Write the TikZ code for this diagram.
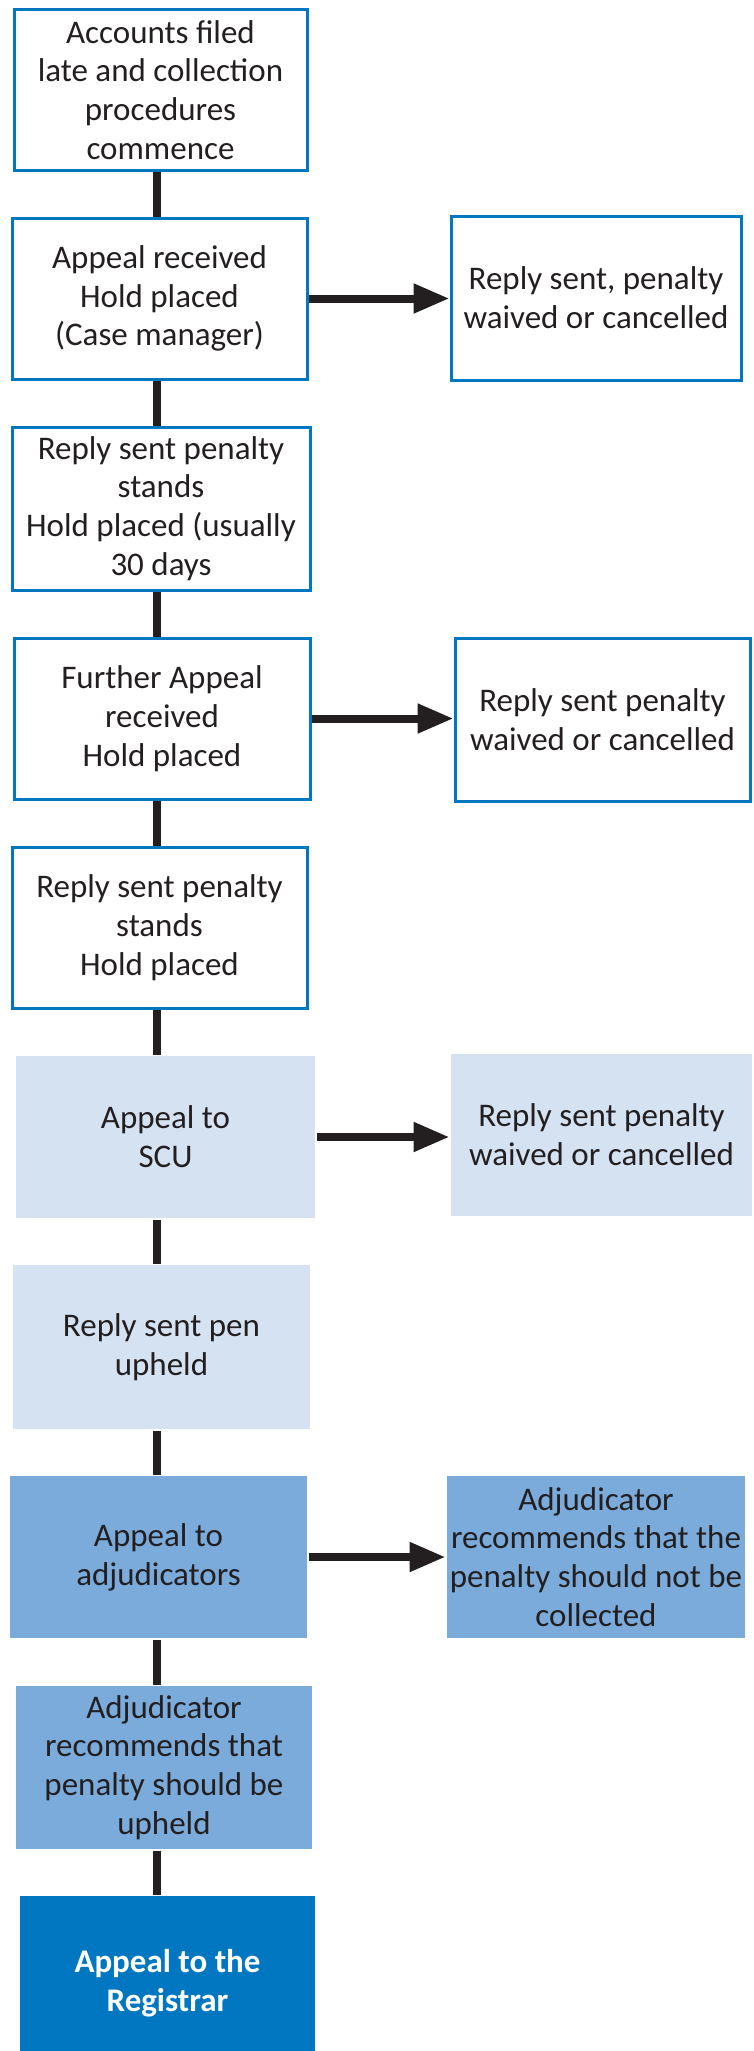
\documentclass[tikz,border=0pt]{standalone}
\usepackage{fontspec}
\setmainfont{Carlito}
\usepackage{xcolor}
\usetikzlibrary{arrows.meta}

\definecolor{boxblue}{HTML}{0077C0}
\definecolor{palefill}{HTML}{D5E2F1}
\definecolor{midfill}{HTML}{7BABDA}
\definecolor{inkdark}{HTML}{231F20}

\tikzset{
  stage/.style={rectangle, draw=boxblue, line width=3pt, fill=white, text=inkdark, align=center,
    inner sep=0pt, font=\fontsize{33}{38.8}\selectfont},
  pale/.style={stage, draw=none, fill=palefill},
  mid/.style={stage, draw=none, fill=midfill},
  final/.style={stage, draw=none, fill=boxblue, text=white, font=\fontsize{33}{38.8}\selectfont\bfseries},
  link/.style={draw=inkdark, line width=7.5pt},
  outcome/.style={draw=inkdark, line width=8pt, -{Triangle[length=36pt,width=28pt]}},
}

\begin{document}
\begin{tikzpicture}[x=1pt, y=-1pt]
            \useasboundingbox (0, 0) rectangle (753, 2051);
            \coordinate (spine) at (157, 0);
            % main column
            \node (1) at (160.5, 90) [stage, minimum width=293pt, minimum height=161pt] {Accounts filed\\late and collection\\procedures\\commence};
            \node (2) at (159.5, 298.5) [stage, minimum width=295pt, minimum height=161pt] {Appeal received\\Hold placed\\(Case manager)};
            \node (3) at (161, 508.5) [stage, minimum width=298pt, minimum height=163pt] {Reply sent penalty\\stands\\Hold placed (usually\\30 days};
            \node (4) at (162, 718.5) [stage, minimum width=296pt, minimum height=161pt] {Further Appeal\\received\\Hold placed};
            \node (5) at (159.5, 927.5) [stage, minimum width=295pt, minimum height=161pt] {Reply sent penalty\\stands\\Hold placed};
            \node (6) at (165.5, 1137) [pale, minimum width=299pt, minimum height=162pt] {Appeal to\\SCU};
            \node (7) at (161.5, 1347) [pale, minimum width=297pt, minimum height=164pt] {Reply sent pen\\upheld};
            \node (8) at (158.5, 1557) [mid, minimum width=297pt, minimum height=162pt] {Appeal to\\adjudicators};
            \node (9) at (164, 1767.5) [mid, minimum width=296pt, minimum height=163pt] {Adjudicator\\recommends that\\penalty should be\\upheld};
            \node (10) at (167.5, 1983.5) [final, minimum width=295pt, minimum height=175pt] {Appeal to the\\Registrar};
            % outcomes on the right
            \node (r2) at (596, 298) [stage, minimum width=290pt, minimum height=164pt] {Reply sent, penalty\\waived or cancelled};
            \node (r4) at (602.5, 719.5) [stage, minimum width=295pt, minimum height=163pt] {Reply sent penalty\\waived or cancelled};
            \node (r6) at (601.5, 1135) [pale, minimum width=301pt, minimum height=162pt] {Reply sent penalty\\waived or cancelled};
            \node (r8) at (596, 1557) [mid, minimum width=298pt, minimum height=162pt] {Adjudicator\\recommends that the\\penalty should not be\\collected};
            \draw [link] (1.south -| spine) -- (2.north -| spine);
            \draw [link] (2.south -| spine) -- (3.north -| spine);
            \draw [link] (3.south -| spine) -- (4.north -| spine);
            \draw [link] (4.south -| spine) -- (5.north -| spine);
            \draw [link] (5.south -| spine) -- (6.north -| spine);
            \draw [link] (6.south -| spine) -- (7.north -| spine);
            \draw [link] (7.south -| spine) -- (8.north -| spine);
            \draw [link] (8.south -| spine) -- (9.north -| spine);
            \draw [link] (9.south -| spine) -- (10.north -| spine);
            \draw [outcome] (2.east) -- (r2.west |- 2.east);
            \draw [outcome] (4.east) -- (r4.west |- 4.east);
            \draw [outcome] (6.east) -- (r6.west |- 6.east);
            \draw [outcome] (8.east) -- (r8.west |- 8.east);
        \end{tikzpicture}
\end{document}
